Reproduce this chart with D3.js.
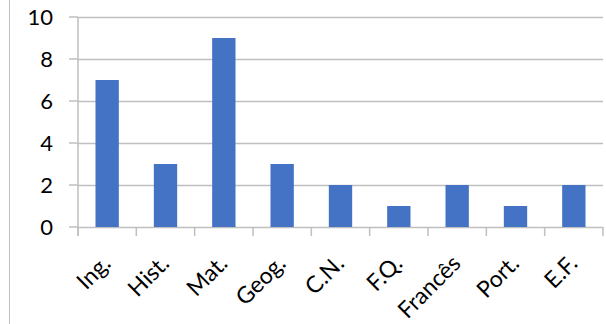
<!DOCTYPE html>
<html>
<head>
<meta charset="utf-8">
<script src="https://cdn.jsdelivr.net/npm/d3@7"></script>
<style>
  body { margin: 0; background: #fff; }
  svg { display: block; }
  .tick text { font-family: Lato, "Open Sans", sans-serif; fill: #000; }
</style>
</head>
<body>
<div class="chart"></div>
<script>
var subjects = ["Ing.", "Hist.", "Mat.", "Geog.", "C.N.", "F.Q.", "Francês", "Port.", "E.F."];
var counts = [7, 3, 9, 3, 2, 1, 2, 1, 2];
var yTicks = [0, 2, 4, 6, 8, 10];

var width = 606, height = 324;
var margin = {top: 17, right: 3, bottom: 97, left: 78};

var svg = d3.select(".chart").append("svg")
    .attr("width", width)
    .attr("height", height);

// left border line of the frame
svg.append("line")
    .attr("x1", 9.5).attr("x2", 9.5)
    .attr("y1", 0).attr("y2", height)
    .attr("stroke", "#bfbfbf");

var x = d3.scaleBand()
    .domain(subjects)
    .range([margin.left, width - margin.right])
    .paddingInner(0.6)
    .paddingOuter(0.3);

var y = d3.scaleLinear()
    .domain([0, 10])
    .range([height - margin.bottom, margin.top]);

// gridlines + y labels
var yAxis = svg.append("g")
    .attr("transform", "translate(" + margin.left + ",0)")
    .call(d3.axisLeft(y).tickValues(yTicks)
        .tickSize(-(width - margin.right - margin.left))
        .tickSizeOuter(0)
        .tickPadding(25));
yAxis.select(".domain").remove();
yAxis.selectAll(".tick line").attr("stroke", "#bfbfbf").attr("stroke-width", 1.5);
yAxis.selectAll(".tick text").attr("font-size", 22);

// little tick stubs left of the axis
svg.append("g").selectAll("line").data(yTicks).enter().append("line")
    .attr("x1", margin.left - 9).attr("x2", margin.left)
    .attr("y1", function (d) { return y(d); })
    .attr("y2", function (d) { return y(d); })
    .attr("stroke", "#bfbfbf").attr("stroke-width", 1.5);

// bars
svg.append("g").selectAll("rect").data(counts).enter().append("rect")
    .attr("x", function (d, i) { return x(subjects[i]); })
    .attr("y", function (d) { return y(d); })
    .attr("width", x.bandwidth())
    .attr("height", function (d) { return y(0) - y(d); })
    .attr("fill", "#4472c4");

// x axis with ticks at band boundaries
var bounds = d3.range(subjects.length + 1).map(function (i) { return margin.left + i * (width - margin.right - margin.left) / subjects.length; });
svg.append("g").selectAll("line").data(bounds).enter().append("line")
    .attr("x1", function (d) { return d; }).attr("x2", function (d) { return d; })
    .attr("y1", y(0)).attr("y2", y(0) + 9)
    .attr("stroke", "#bfbfbf").attr("stroke-width", 1.5);

// y axis line
svg.append("line")
    .attr("x1", margin.left).attr("x2", margin.left)
    .attr("y1", margin.top).attr("y2", y(0) + 9)
    .attr("stroke", "#bfbfbf").attr("stroke-width", 1.5);

// rotated category labels
svg.append("g").selectAll("text").data(subjects).enter().append("text")
    .attr("transform", function (d) {
        return "translate(" + (x(d) + x.bandwidth() / 2 + 5) + "," + (y(0) + 38) + ") rotate(-45)";
    })
    .attr("text-anchor", "end")
    .attr("font-family", "Lato, 'Open Sans', sans-serif")
    .attr("font-size", 23)
    .attr("fill", "#000")
    .text(function (d) { return d; });
</script>
</body>
</html>
